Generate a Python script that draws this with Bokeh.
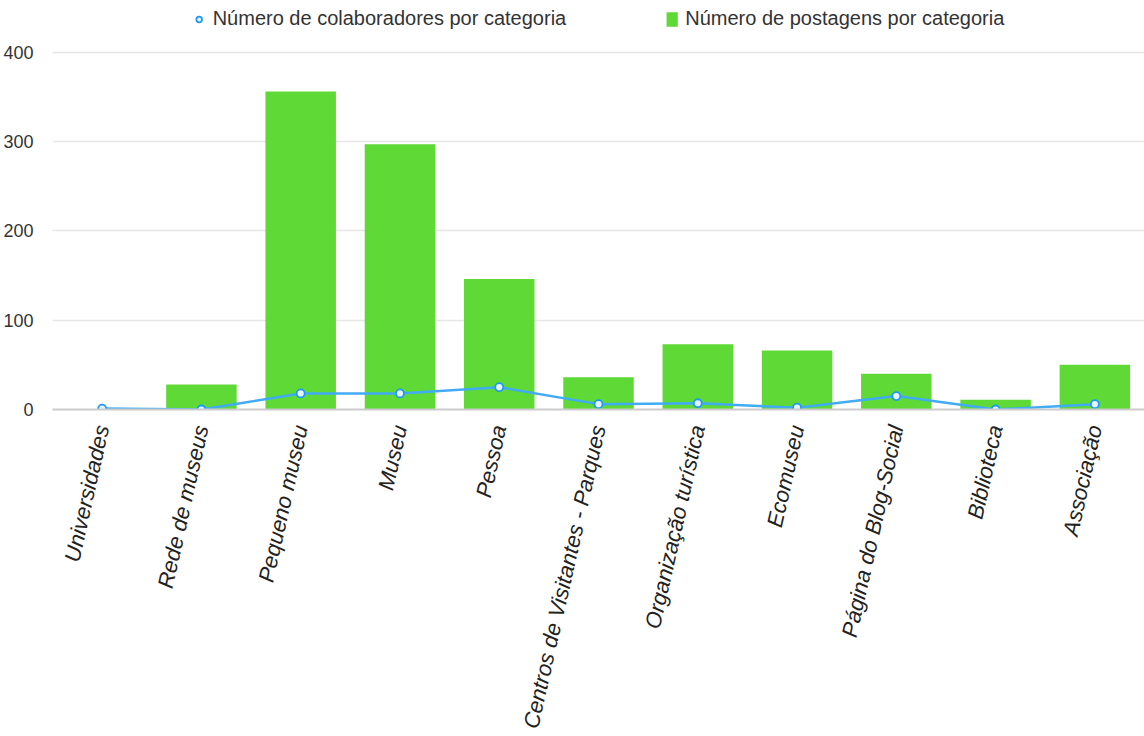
from bokeh.plotting import figure
from bokeh.models import ColumnDataSource, FactorRange, Range1d, Legend, LegendItem
from bokeh.embed import file_html
from bokeh.resources import INLINE

categories = ["Universidades", "Rede de museus", "Pequeno museu", "Museu", "Pessoa",
              "Centros de Visitantes - Parques", "Organização turística", "Ecomuseu",
              "Página do Blog-Social", "Biblioteca", "Associação"]
postagens = [0, 28, 356, 297, 146, 36, 73, 66, 40, 11, 50]
colaboradores = [1, 0, 18, 18, 25, 6, 7, 2, 15, 0, 6]
y_ticks = [0, 100, 200, 300, 400]

src = ColumnDataSource(dict(cat=categories, post=postagens, col=colaboradores))

p = figure(width=1144, height=736, x_range=FactorRange(*categories, range_padding=0),
           y_range=Range1d(0, 458), output_backend="svg", toolbar_location=None,
           min_border_left=50, min_border_right=0, min_border_top=0, min_border_bottom=327)
p.outline_line_color = None
p.background_fill_color = "white"

bars = p.vbar(x="cat", top="post", width=0.71, source=src, fill_color="#5ed935",
              line_color=None)
line = p.line(x="cat", y="col", source=src, line_color="#42abf5", line_width=2.5)
pts = p.scatter(x="cat", y="col", source=src, size=8, fill_color="#e6f4ff",
                line_color="#1f9af0", line_width=1.8)

p.xgrid.grid_line_color = None
p.ygrid.grid_line_color = "#e6e6e6"
p.ygrid.grid_line_width = 1.5
p.yaxis.ticker = y_ticks
p.yaxis.axis_line_color = None
p.yaxis.major_tick_line_color = None
p.yaxis.minor_tick_line_color = None
p.yaxis.major_label_text_font = "Liberation Sans"
p.yaxis.major_label_text_font_size = "18px"
p.yaxis.major_label_text_color = "#333333"
p.yaxis.major_label_standoff = 13

p.xaxis.axis_line_color = "#cccccc"
p.xaxis.axis_line_width = 2
p.xaxis.major_tick_line_color = None
p.xaxis.minor_tick_line_color = None
p.xaxis.major_label_orientation = 1.35
p.xaxis.major_label_text_font = "Liberation Sans"
p.xaxis.major_label_text_font_size = "22px"
p.xaxis.major_label_text_font_style = "italic"
p.xaxis.major_label_text_color = "#222222"
p.xaxis.major_label_standoff = 10

legend = Legend(items=[LegendItem(label="Número de colaboradores por categoria", renderers=[pts]),
                       LegendItem(label="Número de postagens por categoria", renderers=[bars])],
                orientation="horizontal", location="top_center", spacing=98,
                label_text_font="Liberation Sans", label_text_font_size="20px",
                label_text_color="#333333", glyph_width=14, glyph_height=18,
                label_standoff=7,
                border_line_color=None, background_fill_alpha=0, margin=7, padding=4)
p.add_layout(legend, "center")

open("out.html", "w").write(file_html(p, INLINE))
